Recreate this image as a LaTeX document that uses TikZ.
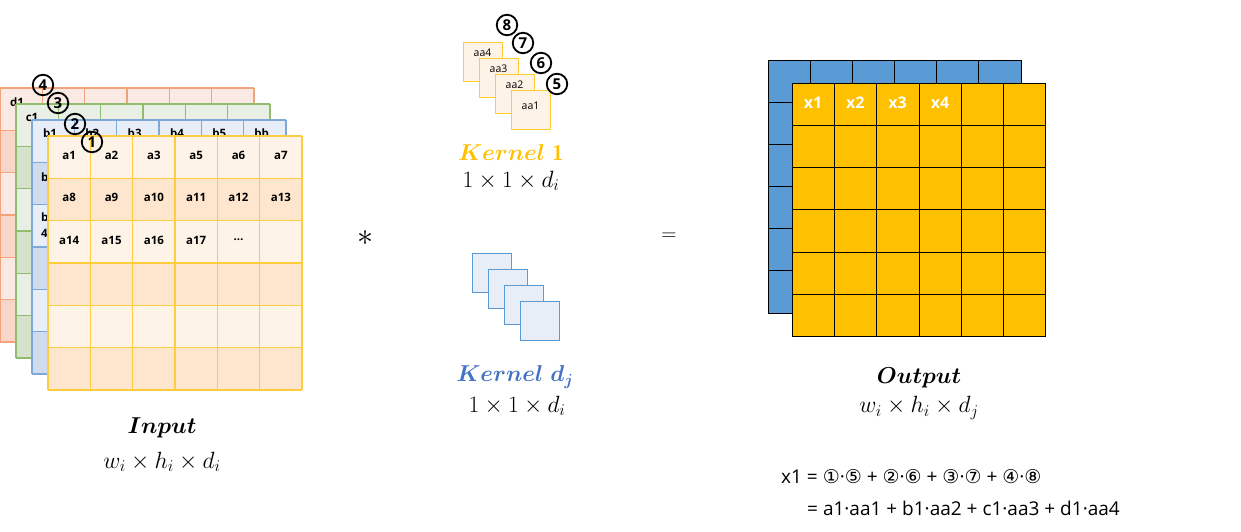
\RequirePackage{fix-cm}
\documentclass[tikz,border=0pt]{standalone}
\usepackage{fontspec}
\usepackage{bm}
\setsansfont{Open Sans}
\newfontfamily\circfont{DejaVu Sans}
\definecolor{oEdge}{HTML}{F4A27A}
\definecolor{oLight}{HTML}{FBEAE4}
\definecolor{oDark}{HTML}{F8D6C8}
\definecolor{gEdge}{HTML}{8FBC6E}
\definecolor{gLight}{HTML}{EAEFE6}
\definecolor{gDark}{HTML}{D5E3CD}
\definecolor{bEdge}{HTML}{7FA8DA}
\definecolor{bLight}{HTML}{E8EEF8}
\definecolor{bDark}{HTML}{D0DCEE}
\definecolor{yEdge}{HTML}{FFCC40}
\definecolor{yLight}{HTML}{FEF3E7}
\definecolor{yDark}{HTML}{FDE6CD}
\definecolor{kGold}{HTML}{FFC000}
\definecolor{kBlueText}{HTML}{4472C4}
\definecolor{kBlueEdge}{HTML}{5B9BD5}
\definecolor{outBlue}{HTML}{5B9BD5}
\definecolor{outYellow}{HTML}{FFC000}
\newcommand{\gridlayer}[5]{%
  \fill[#4] (#1,#2) rectangle ++(254,254);
  \foreach \r in {1,3,5} \fill[#5] (#1,#2+\r*42.33) rectangle ++(254,42.33);
  \foreach \i in {0,...,6} {
    \draw[#3,line width=1.1pt] (#1+\i*42.33,#2) -- ++(0,254);
    \draw[#3,line width=1.1pt] (#1,#2+\i*42.33) -- ++(254,0);
  }
}
\tikzset{
  glab/.style={font=\sffamily\bfseries\fontsize{11.5}{12}\selectfont, inner sep=0pt},
  klab/.style={font=\sffamily\fontsize{10.5}{11}\selectfont, inner sep=0pt},
  circnum/.style={circle, draw, line width=1.8pt, minimum size=20.5pt, inner sep=0pt,
    font=\sffamily\bfseries\fontsize{15}{15}\selectfont},
  ksqY/.style={draw=kGold!80, fill=yLight, line width=1pt, minimum width=39pt, minimum height=39pt, anchor=north west, inner sep=0pt},
  ksqB/.style={draw=kBlueEdge, fill=bLight, line width=1pt, minimum width=39pt, minimum height=39pt, anchor=north west, inner sep=0pt},
  namelab/.style={font=\fontsize{23}{26}\selectfont, inner sep=0pt},
  dimlab/.style={font=\fontsize{23.5}{26}\selectfont, inner sep=0pt},
  xlab/.style={font=\sffamily\bfseries\fontsize{16}{16}\selectfont, text=white, inner sep=0pt},
  formula/.style={font=\sffamily\fontsize{19}{21}\selectfont, inner sep=0pt, anchor=west}
}
\begin{document}
\begin{tikzpicture}[x=1pt,y=-1pt]
\useasboundingbox (0,0) rectangle (1241,531);
% ---------- input layers ----------
\gridlayer{0}{88}{oEdge}{oLight}{oDark}
\node[glab] (d1) at (17,102) {d1};
\gridlayer{16}{104}{gEdge}{gLight}{gDark}
\node[glab] (c1) at (32,117) {c1};
\gridlayer{32}{120}{bEdge}{bLight}{bDark}
\foreach \t [count=\i from 0] in {b1,b2,b3,b4,b5,bb}
  \node[glab] (B\i) at (50+\i*42.33,133) {\t};
\node[glab, anchor=west] (b7) at (41,177) {b7};
\node[glab, anchor=west, align=left, font=\sffamily\bfseries\fontsize{11.5}{16}\selectfont] (b14) at (41,225) {b1\\4};
\gridlayer{48}{136}{yEdge}{yLight}{yDark}
\foreach \t [count=\i from 0] in {a1,a2,a3,a5,a6,a7}
  \node[glab] (A1\i) at (69.2+\i*42.33,155) {\t};
\foreach \t [count=\i from 0] in {a8,a9,a10,a11,a12,a13}
  \node[glab] (A2\i) at (69.2+\i*42.33,197.5) {\t};
\foreach \t [count=\i from 0] in {a14,a15,a16,a17}
  \node[glab] (A3\i) at (69.2+\i*42.33,240) {\t};
\node[glab] (A34) at (238.5,240) {\ldots};
\node[circnum] (n4) at (43,85) {4};
\node[circnum] (n3) at (58,103) {3};
\node[circnum] (n2) at (75,124) {2};
\node[circnum] (n1) at (92,142) {1};
\node[namelab] (inname) at (162,428) {$\bm{Input}$};
\node[dimlab] (indim) at (162,462) {$w_i\times h_i\times d_i$};
% ---------- operators ----------
\node[font=\fontsize{32}{32}\selectfont, inner sep=0pt] (ast) at (365,238) {$\ast$};
\node[font=\fontsize{21}{21}\selectfont, inner sep=0pt] (eq) at (669,237) {$=$};
% ---------- kernel 1 ----------
\node[ksqY] (k14) at (463,42) {};
\node[klab] at (482.5,53) {aa4};
\node[ksqY] (k13) at (479,58) {};
\node[klab] at (498.5,69) {aa3};
\node[ksqY] (k12) at (495,74) {};
\node[klab] at (514.5,85) {aa2};
\node[ksqY] (k11) at (511,90) {};
\node[klab] at (530.5,106) {aa1};
\node[circnum] (n8) at (507,25) {8};
\node[circnum] (n7) at (523,43) {7};
\node[circnum] (n6) at (541,63) {6};
\node[circnum] (n5) at (557,84) {5};
\node[namelab, text=kGold] (k1name) at (511,153) {$\bm{Kernel}\ \mathbf{1}$};
\node[dimlab] (k1dim) at (511,181) {$1\times1\times d_i$};
% ---------- kernel dj ----------
\node[ksqB] (kd1) at (472,253) {};
\node[ksqB] (kd2) at (488,269) {};
\node[ksqB] (kd3) at (504,285) {};
\node[ksqB] (kd4) at (520,301) {};
\node[namelab, text=kBlueText] (kdname) at (515,377) {$\bm{Kernel}\ \bm{d_j}$};
\node[dimlab] (kddim) at (517,406) {$1\times1\times d_i$};
% ---------- output ----------
\fill[outBlue] (768,60) rectangle (1021,313);
\foreach \i in {0,...,6} {
  \draw[black,line width=1pt] (768+\i*42.17,60) -- ++(0,253);
  \draw[black,line width=1pt] (768,60+\i*42.17) -- ++(253,0);
}
\fill[outYellow] (792,83) rectangle (1046,337);
\foreach \i in {0,...,6} {
  \draw[black,line width=1pt] (792+\i*42.33,83) -- ++(0,254);
  \draw[black,line width=1pt] (792,83+\i*42.33) -- ++(254,0);
}
\foreach \t [count=\i from 0] in {x1,x2,x3,x4}
  \node[xlab] (X\i) at (813+\i*42.33,103) {\t};
\node[namelab] (outname) at (919,378) {$\bm{Output}$};
\node[dimlab] (outdim) at (919,408) {$w_i\times h_i\times d_j$};
% ---------- formula ----------
\node[formula] (f1) at (781,477) {x1 = {\circfont ①}·{\circfont ⑤} + {\circfont ②}·{\circfont ⑥} + {\circfont ③}·{\circfont ⑦} + {\circfont ④}·{\circfont ⑧}};
\node[formula] (f2) at (807,508) {= a1·aa1 + b1·aa2 + c1·aa3 + d1·aa4};
\end{tikzpicture}
\end{document}
